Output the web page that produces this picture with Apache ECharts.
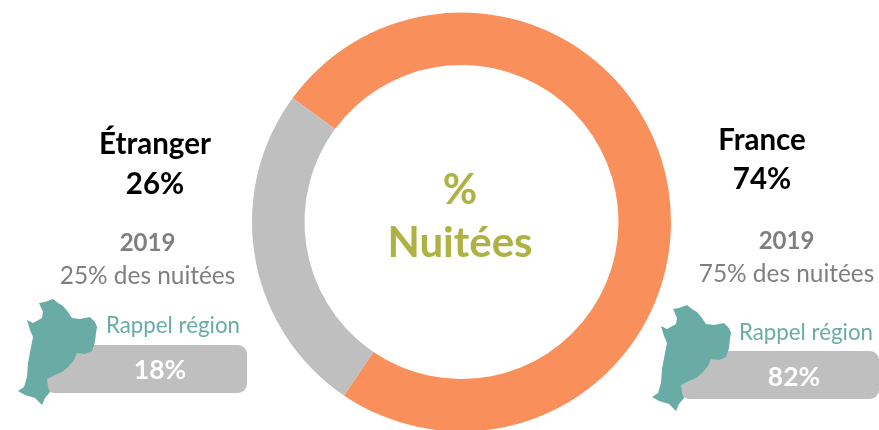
<!DOCTYPE html>
<html>
<head>
<meta charset="utf-8">
<style>
  html, body { margin: 0; padding: 0; background: #fff; }
  #chart { width: 879px; height: 430px; }
</style>
</head>
<body>
<div id="chart"></div>
<script src="https://cdn.jsdelivr.net/npm/echarts@6/dist/echarts.min.js"></script>
<script>
const categories = ["France", "Étranger"];
const values = [74.4, 25.6];
const colors = ["#F98F5A", "#BFBFBF"];
const values2019 = [75, 25];
const rappelRegion = [82, 18];

const FONT = "Lato, 'Open Sans', sans-serif";
const TEAL = "#69ACA5";

// contour de la région (coordonnées de la carte de gauche)
const mapOutline = [
  [39, 303], [45, 302], [53, 299], [58, 303], [63, 306], [68, 312], [72, 318], [80, 319],
  [90, 317], [95, 322], [97, 327], [96, 333], [95, 342], [92, 351], [85, 354], [77, 353],
  [74, 360], [68, 367], [62, 372], [55, 375], [47, 379], [48, 387], [50, 392], [45, 398],
  [42, 405], [35, 398], [25, 395], [18, 391], [24, 387], [27, 377], [28, 363], [31, 347],
  [33, 337], [30, 330], [27, 320], [33, 323], [42, 318], [43, 312]
];

const text = (x, y, str, size, color, weight) => ({
  type: "text",
  x: x,
  y: y,
  z: 10,
  style: {
    text: str,
    fill: color,
    font: (weight || "normal") + " " + size + "px " + FONT,
    align: "center",
    verticalAlign: "middle"
  }
});

const block = (b) => [
  text(b.x, b.y[0], b.name, 29.5, "#000", "bold"),
  text(b.x, b.y[1], Math.round(b.val) + "%", 29.5, "#000", "bold"),
  text(b.x2, b.y[2], "2019", 24, "#7F7F7F", "bold"),
  text(b.x2, b.y[3], b.prev + "% des nuitées", 24.4, "#7F7F7F"),
  {
    type: "rect",
    x: b.barX,
    y: b.barY,
    z: 5,
    shape: { x: 0, y: 0, width: b.barW, height: 48, r: 9 },
    style: { fill: "#BFBFBF" }
  },
  {
    type: "polygon",
    x: b.mapDx,
    y: b.mapDy,
    z: 6,
    shape: { points: mapOutline },
    style: { fill: TEAL }
  },
  text(b.rappelX, b.rappelY, "Rappel région", 22.3, TEAL),
  text(b.valX, b.valY, b.rappel + "%", 26.5, "#fff", "bold")
];

const chart = echarts.init(document.getElementById("chart"));
chart.setOption({
  animation: false,
  series: [
    {
      type: "pie",
      center: [461.5, 222],
      radius: [157, 209.5],
      startAngle: 143.7,
      silent: true,
      label: { show: false },
      labelLine: { show: false },
      data: categories.map((name, i) => ({
        name: name,
        value: values[i],
        itemStyle: { color: colors[i] }
      }))
    }
  ],
  graphic: [
    text(460, 190, "%", 42, "#AEB243", "bold"),
    text(460, 243, "Nuitées", 42, "#AEB243", "bold"),
    ...block({
      name: categories[1], val: values[1], prev: values2019[1], rappel: rappelRegion[1],
      x: 155, x2: 147.5, y: [144, 184, 243, 276],
      barX: 45, barY: 345, barW: 202,
      mapDx: 0, mapDy: 0,
      rappelX: 173, rappelY: 326, valX: 160, valY: 370
    }),
    ...block({
      name: categories[0], val: values[0], prev: values2019[0], rappel: rappelRegion[0],
      x: 762, x2: 786.5, y: [140, 179, 241, 274],
      barX: 680, barY: 351, barW: 199,
      mapDx: 634, mapDy: 6,
      rappelX: 806, rappelY: 333, valX: 794, valY: 377
    })
  ]
});
</script>
</body>
</html>
